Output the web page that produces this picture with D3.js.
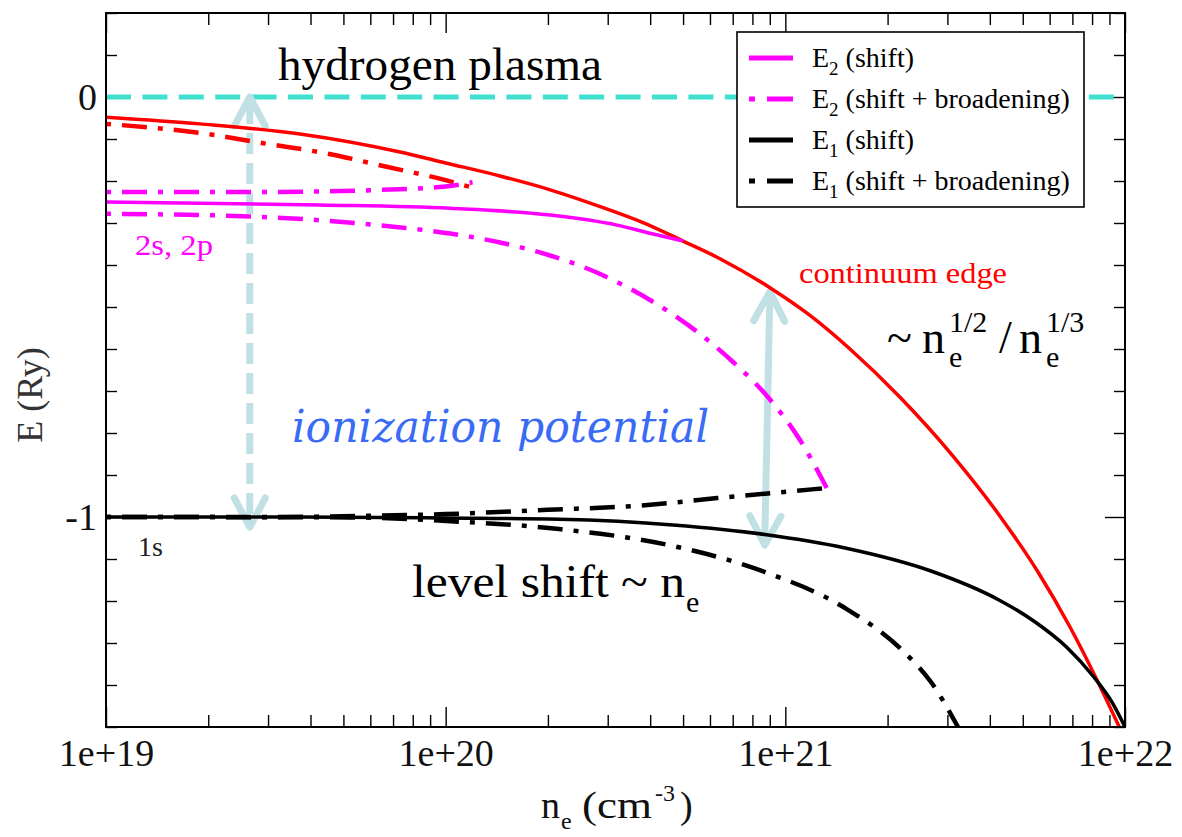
<!DOCTYPE html>
<html>
<head>
<meta charset="utf-8">
<script src="https://cdn.jsdelivr.net/npm/d3@7"></script>
<style>
  html, body { margin: 0; padding: 0; background: #fff; }
  svg { display: block; font-family: "Liberation Serif", "Times New Roman", serif; }
</style>
</head>
<body>
<svg id="chart" width="1182" height="837"></svg>
<script>
// Electron density n_e (cm^-3) and energy E (Ry) sampled along each curve.

// continuum edge (shift)
const neEdge = [1e19, 1.891e19, 3.725e19, 7.34e19, 1e20, 1.445e20, 2.03e20, 2.85e20, 3.996e20, 5e20, 6.42e20, 9.01e20, 1.182e21, 1.55e21, 2.176e21, 3.116e21, 4.285e21, 5.545e21, 6.887e21, 8.27e21, 9.62e21];
const eEdge  = [-0.048, -0.064, -0.088, -0.131, -0.157, -0.188, -0.221, -0.261, -0.306, -0.343, -0.385, -0.454, -0.520, -0.600, -0.715, -0.855, -0.998, -1.131, -1.262, -1.388, -1.500];

// continuum edge (shift + broadening)
const neEdgeBr = [1e19, 1.95e19, 2.9e19, 4.5e19, 6.6e19, 1e20, 1.2e20];
const eEdgeBr  = [-0.064, -0.087, -0.110, -0.135, -0.165, -0.198, -0.216];

// E2 (shift)
const neE2 = [1e19, 4.266e19, 1.03e20, 2.03e20, 3.195e20, 3.996e20, 5e20];
const eE2  = [-0.250, -0.257, -0.265, -0.281, -0.305, -0.3245, -0.343];

// E2 (shift + broadening), upper branch
const neE2Up = [1e19, 3e19, 6e19, 1e20, 1.2e20];
const eE2Up  = [-0.226, -0.226, -0.222, -0.213, -0.203];

// E2 (shift + broadening), lower branch
const neE2Lo = [1e19, 2.673e19, 7.14e19, 1.03e20, 1.445e20, 2.03e20, 2.85e20, 3.996e20, 5.61e20, 7.015e20, 8.83e20, 1.1046e21, 1.324e21];
const eE2Lo  = [-0.278, -0.2845, -0.3095, -0.325, -0.3464, -0.3774, -0.4214, -0.4833, -0.5643, -0.631, -0.712, -0.8167, -0.931];

// E1 (shift)
const neE1 = [1e19, 3.725e19, 1e20, 2.157e20, 4.67e20, 8.71e20, 1.499e21, 2.684e21, 4.256e21, 5.36e21, 6.75e21, 8.05e21, 9.22e21, 1e22];
const eE1  = [-1.000, -1.000, -1.0024, -1.0055, -1.019, -1.0417, -1.0738, -1.1286, -1.1976, -1.2464, -1.3107, -1.3786, -1.445, -1.500];

// E1 (shift + broadening), upper branch
const neE1Up = [1e19, 3e19, 6e19, 1e20, 2e20, 4e20, 6.3e20, 1e21, 1.324e21];
const eE1Up  = [-1.000, -1.000, -0.997, -0.993, -0.983, -0.971, -0.955, -0.940, -0.931];

// E1 (shift + broadening), lower branch
const neE1Lo = [1e19, 5.23e19, 1e20, 2.157e20, 4.67e20, 8.71e20, 1.499e21, 2.22e21, 2.684e21, 3.224e21];
const eE1Lo  = [-1.000, -1.001, -1.0095, -1.0286, -1.069, -1.131, -1.2167, -1.319, -1.393, -1.500];

// axis ticks
const xMajorTicks = [1e19, 1e20, 1e21, 1e22];
const yMajorTicks = [0, -1];

// legend
const legendLabels = [
  ["E", "2", " (shift)"],
  ["E", "2", " (shift + broadening)"],
  ["E", "1", " (shift)"],
  ["E", "1", " (shift + broadening)"]
];
const legendColors = ["#ff00ff", "#ff00ff", "#000000", "#000000"];
const legendDashed = [false, true, false, true];

// ionization potential arrows: [n_e, E top, n_e, E bottom]
const arrowIon = [2.65e19, 0.0, 2.65e19, -1.024];
const arrowEdge = [9.0e20, -0.464, 8.7e20, -1.067];

// ---------------------------------------------------------------
const plotL = 106, plotR = 1125, plotT = 13, plotB = 727;
const svg = d3.select("#chart");

const x = d3.scaleLog().domain([1e19, 1e22]).range([plotL, plotR]);
const y = d3.scaleLinear().domain([-1.5, 0.2]).range([plotB, plotT]);

const DASHDOT = "5,11,25,11";
const SERIF = "'Liberation Serif','Times New Roman',serif";

svg.append("defs").append("clipPath").attr("id", "plotClip")
  .append("rect").attr("x", plotL).attr("y", plotT)
  .attr("width", plotR - plotL).attr("height", plotB - plotT);

// ---- axes (ticks point inward on all four sides) ----
const xMinor = x.ticks().filter(d => !xMajorTicks.includes(d));
const yMinor = d3.range(-15, 3).map(i => i / 10).filter(d => !yMajorTicks.some(m => Math.abs(m - d) < 1e-9));
const fmtX = d => "1e+" + Math.round(Math.log10(d));

function styleAxis(g) {
  g.select(".domain").remove();
  g.selectAll(".tick line").attr("stroke", "#000").attr("stroke-width", 1.4);
  g.selectAll("text").attr("font-family", SERIF).attr("font-size", 38).attr("fill", "#111");
}

svg.append("g").attr("transform", `translate(0,${plotB})`)
  .call(d3.axisBottom(x).tickValues(xMinor).tickSize(-12).tickFormat("")).call(styleAxis);
svg.append("g").attr("transform", `translate(0,${plotB})`)
  .call(d3.axisBottom(x).tickValues(xMajorTicks).tickSize(-20).tickPadding(12).tickFormat(fmtX)).call(styleAxis);
svg.append("g").attr("transform", `translate(0,${plotT})`)
  .call(d3.axisTop(x).tickValues(xMinor).tickSize(-12).tickFormat("")).call(styleAxis);
svg.append("g").attr("transform", `translate(0,${plotT})`)
  .call(d3.axisTop(x).tickValues(xMajorTicks).tickSize(-20).tickFormat("")).call(styleAxis);

svg.append("g").attr("transform", `translate(${plotL},0)`)
  .call(d3.axisLeft(y).tickValues(yMinor).tickSize(-11).tickFormat("")).call(styleAxis);
svg.append("g").attr("transform", `translate(${plotL},0)`)
  .call(d3.axisLeft(y).tickValues(yMajorTicks).tickSize(-20).tickPadding(9).tickFormat(d => String(d))).call(styleAxis);
svg.append("g").attr("transform", `translate(${plotR},0)`)
  .call(d3.axisRight(y).tickValues(yMinor).tickSize(-11).tickFormat("")).call(styleAxis);
svg.append("g").attr("transform", `translate(${plotR},0)`)
  .call(d3.axisRight(y).tickValues(yMajorTicks).tickSize(-20).tickFormat("")).call(styleAxis);

// ---- zero-energy reference line ----
svg.append("line")
  .attr("x1", x(1e19)).attr("x2", x(1e22)).attr("y1", y(0)).attr("y2", y(0))
  .attr("stroke", "#40e0d0").attr("stroke-width", 5).attr("stroke-dasharray", "25,11.4");

// ---- ionization-potential arrows ----
const arrowColor = "#c0e0e4";
function drawArrow(a, dashed) {
  const x1 = x(a[0]), y1 = y(a[1]), x2 = x(a[2]), y2 = y(a[3]);
  const g = svg.append("g").attr("stroke", arrowColor).attr("fill", "none")
    .attr("stroke-linecap", "round").attr("stroke-linejoin", "round");
  g.append("line").attr("x1", x1).attr("y1", y1 + 6).attr("x2", x2).attr("y2", y2 - 6)
    .attr("stroke-width", 7).attr("stroke-linecap", dashed ? "butt" : "round")
    .attr("stroke-dasharray", dashed ? "21,9" : null);
  const ang = Math.atan2(y2 - y1, x2 - x1);
  const head = (px, py, dir) => {
    const L = 33, spread = 0.49;
    const a1 = dir + Math.PI - spread, a2 = dir + Math.PI + spread;
    g.append("path").attr("stroke-width", 7)
      .attr("d", `M${px + L * Math.cos(a1)},${py + L * Math.sin(a1)}L${px},${py}L${px + L * Math.cos(a2)},${py + L * Math.sin(a2)}`);
  };
  head(x1, y1, ang + Math.PI);
  head(x2, y2, ang);
}
drawArrow(arrowIon, true);
drawArrow(arrowEdge, false);

// ---- curves ----
const line = d3.line().x(d => x(d[0])).y(d => y(d[1])).curve(d3.curveMonotoneX);
const series = [
  { n: neEdge,   e: eEdge,   color: "#ff0000", dash: null,    w: 3.5 },
  { n: neEdgeBr, e: eEdgeBr, color: "#ff0000", dash: DASHDOT, w: 4.5 },
  { n: neE2,     e: eE2,     color: "#ff00ff", dash: null,    w: 3.5 },
  { n: neE2Up,   e: eE2Up,   color: "#ff00ff", dash: DASHDOT, w: 4.5 },
  { n: neE2Lo,   e: eE2Lo,   color: "#ff00ff", dash: DASHDOT, w: 4.5 },
  { n: neE1,     e: eE1,     color: "#000000", dash: null,    w: 3.5 },
  { n: neE1Up,   e: eE1Up,   color: "#000000", dash: DASHDOT, w: 4.5 },
  { n: neE1Lo,   e: eE1Lo,   color: "#000000", dash: DASHDOT, w: 4.5 }
];
const curves = svg.append("g").attr("clip-path", "url(#plotClip)");
series.forEach(s => {
  curves.append("path")
    .attr("d", line(s.n.map((v, i) => [v, s.e[i]])))
    .attr("fill", "none").attr("stroke", s.color).attr("stroke-width", s.w)
    .attr("stroke-dasharray", s.dash);
});

// ---- frame ----
svg.append("rect").attr("x", plotL).attr("y", plotT)
  .attr("width", plotR - plotL).attr("height", plotB - plotT)
  .attr("fill", "none").attr("stroke", "#000").attr("stroke-width", 2);

// ---- legend ----
const lg = svg.append("g");
lg.append("rect").attr("x", 737).attr("y", 32).attr("width", 347).attr("height", 175)
  .attr("fill", "#fff").attr("stroke", "#000").attr("stroke-width", 1.6);
legendLabels.forEach((lab, i) => {
  const cy = 58 + i * 41;
  lg.append("line").attr("x1", 749).attr("x2", 793).attr("y1", cy).attr("y2", cy)
    .attr("stroke", legendColors[i]).attr("stroke-width", 5)
    .attr("stroke-dasharray", legendDashed[i] ? "6,12,26,12" : null);
  const t = lg.append("text").attr("x", 812).attr("y", cy + 9)
    .attr("font-family", SERIF).attr("font-size", 28).attr("fill", "#000");
  t.append("tspan").text(lab[0]);
  t.append("tspan").attr("font-size", 19).attr("dy", 8).text(lab[1]);
  t.append("tspan").attr("dy", -8).text(lab[2]);
});

// ---- axis titles ----
svg.append("text").attr("transform", "translate(42,395) rotate(-90)")
  .attr("text-anchor", "middle").attr("font-family", SERIF).attr("font-size", 36)
  .attr("fill", "#333").text("E (Ry)");

const xt = svg.append("g").attr("font-family", SERIF).attr("fill", "#111");
xt.append("text").attr("x", 541).attr("y", 818).attr("font-size", 38).text("n");
xt.append("text").attr("x", 561).attr("y", 829).attr("font-size", 24).text("e");
xt.append("text").attr("x", 582).attr("y", 818).attr("font-size", 38)
  .attr("textLength", 70).attr("lengthAdjust", "spacingAndGlyphs").text("(cm");
xt.append("text").attr("x", 655).attr("y", 801).attr("font-size", 24).text("-3");
xt.append("text").attr("x", 680).attr("y", 818).attr("font-size", 38).text(")");

// ---- annotations ----
function txt(xp, yp, s, size, fill, extra) {
  const t = svg.append("text").attr("x", xp).attr("y", yp)
    .attr("font-family", (extra && extra.family) || SERIF).attr("font-size", size).attr("fill", fill).text(s);
  if (extra && extra.len) t.attr("textLength", extra.len).attr("lengthAdjust", "spacingAndGlyphs");
  if (extra && extra.italic) t.attr("font-style", "italic");
  return t;
}
txt(278, 80, "hydrogen plasma", 46, "#000", { len: 324 });
txt(135, 255, "2s, 2p", 30, "#ff00ff", { len: 78 });
txt(138, 556, "1s", 28, "#222");
txt(799, 283, "continuum edge", 30, "#ff0000", { len: 208 });
txt(292, 442, "ionization potential", 44, "#3a6bf5",
    { len: 417, italic: true, family: "'DejaVu Serif','Liberation Serif',serif" });
txt(412, 597, "level shift ~ n", 46, "#000", { len: 273 });
txt(686, 612, "e", 30, "#000");

// ~ n_e^{1/2} / n_e^{1/3}
txt(887, 353, "~", 46, "#000");
txt(922, 353, "n", 46, "#000");
txt(949, 367, "e", 30, "#000");
txt(949, 332, "1/2", 30, "#000");
txt(999, 353, "/", 46, "#000");
txt(1019, 353, "n", 46, "#000");
txt(1046, 367, "e", 30, "#000");
txt(1046, 332, "1/3", 30, "#000");
</script>
</body>
</html>
